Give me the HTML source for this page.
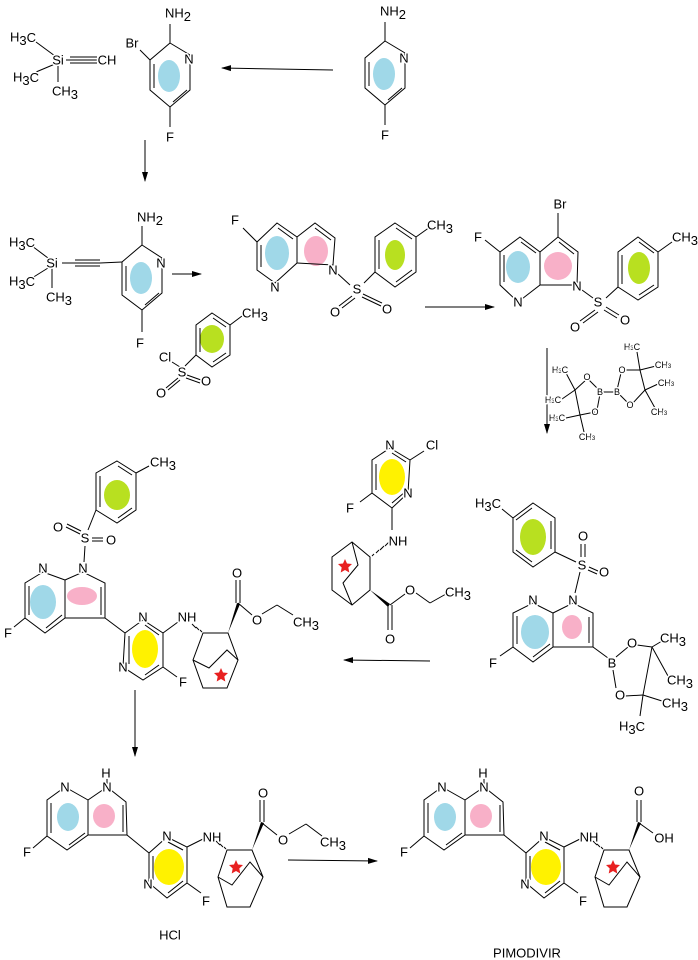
<!DOCTYPE html>
<html><head><meta charset="utf-8"><style>
html,body{margin:0;padding:0;background:#fff}
svg{display:block}
text{font-family:"Liberation Sans",Arial,sans-serif;font-size:13px;fill:#000;text-anchor:middle;dominant-baseline:central;paint-order:stroke;stroke:#fff;stroke-width:3px;stroke-linejoin:round}
text.s{font-size:9px}
line,polyline,polygon.r{stroke:#000;stroke-width:1;fill:none}
.bl{fill:#a0d8e8}.pk{fill:#f8b0c8}.gr{fill:#b8e020}.ye{fill:#fff200}.st{fill:#e82020}
</style></head><body>
<svg width="698" height="960" viewBox="0 0 698 960" xmlns="http://www.w3.org/2000/svg">
<defs>
<marker id="ah" markerWidth="10" markerHeight="8" refX="9" refY="4" orient="auto" markerUnits="userSpaceOnUse"><path d="M0,1 L10,4 L0,7 Z" fill="#000"/></marker>
<polygon id="star" points="0,-7 2,-2.5 7,-2 3.3,1.5 4.3,6.5 0,4 -4.3,6.5 -3.3,1.5 -7,-2 -2,-2.5"/>
</defs>

<!-- arrows -->
<g stroke="#000" stroke-width="1" marker-end="url(#ah)">
<line x1="333" y1="70" x2="222" y2="68"/>
<line x1="145" y1="140" x2="145" y2="181"/>
<line x1="172" y1="274" x2="201" y2="274"/>
<line x1="425" y1="307" x2="494" y2="307"/>
<line x1="547" y1="348" x2="547" y2="433"/>
<line x1="430" y1="661" x2="344" y2="660"/>
<line x1="135" y1="690" x2="135" y2="756"/>
<line x1="288" y1="860" x2="377" y2="861"/>
</g>

<!-- S1 -->
<ellipse class="bl" cx="384" cy="74" rx="11" ry="16"/>
<polygon class="r" points="385,41 405,53 405,88 385,105 365,88 365,58"/>
<line x1="369" y1="62" x2="369" y2="86"/><line x1="388" y1="100" x2="402" y2="88"/>
<line x1="385" y1="41" x2="385" y2="22"/><line x1="385" y1="105" x2="385" y2="125"/>
<text x="393" y="11">NH<tspan class="s" dy="3">2</tspan></text>
<text x="404" y="58">N</text><text x="385" y="135">F</text>

<!-- S2 -->
<ellipse class="bl" cx="169" cy="76" rx="11" ry="16"/>
<polygon class="r" points="170,43 190,55 190,90 170,107 150,90 150,60"/>
<line x1="154" y1="64" x2="154" y2="88"/><line x1="173" y1="102" x2="187" y2="90"/>
<line x1="170" y1="43" x2="170" y2="24"/><line x1="150" y1="60" x2="140" y2="50"/><line x1="170" y1="107" x2="170" y2="127"/>
<text x="178" y="13">NH<tspan class="s" dy="3">2</tspan></text>
<text x="132" y="43">Br</text><text x="189" y="59">N</text><text x="170" y="137">F</text>
<line x1="36" y1="42" x2="55" y2="56"/><line x1="36" y1="72" x2="55" y2="64"/><line x1="58" y1="66" x2="58" y2="82"/>
<line x1="66" y1="60" x2="97" y2="60"/><line x1="70" y1="57" x2="97" y2="57"/><line x1="70" y1="63" x2="97" y2="63"/>
<text x="58" y="60">Si</text><text x="107" y="60">CH</text>
<text x="23" y="37">H<tspan class="s" dy="3">3</tspan><tspan dy="-3">C</tspan></text>
<text x="26" y="77">H<tspan class="s" dy="3">3</tspan><tspan dy="-3">C</tspan></text>
<text x="65" y="91">CH<tspan class="s" dy="3">3</tspan></text>

<!-- S3 -->
<ellipse class="bl" cx="141" cy="278" rx="11" ry="16"/>
<polygon class="r" points="142,245 162,258 162,293 142,310 122,295 122,262"/>
<line x1="126" y1="266" x2="126" y2="291"/><line x1="145" y1="305" x2="159" y2="293"/>
<line x1="142" y1="245" x2="142" y2="226"/><line x1="142" y1="310" x2="142" y2="332"/>
<line x1="122" y1="262" x2="100" y2="263"/>
<line x1="62" y1="263" x2="100" y2="263"/><line x1="75" y1="260" x2="100" y2="260"/><line x1="75" y1="266" x2="100" y2="266"/>
<line x1="32" y1="246" x2="48" y2="258"/><line x1="32" y1="278" x2="48" y2="268"/><line x1="52" y1="268" x2="52" y2="288"/>
<text x="150" y="217">NH<tspan class="s" dy="3">2</tspan></text>
<text x="161" y="263">N</text><text x="140" y="343">F</text><text x="52" y="263">Si</text>
<text x="22" y="242">H<tspan class="s" dy="3">3</tspan><tspan dy="-3">C</tspan></text>
<text x="22" y="281">H<tspan class="s" dy="3">3</tspan><tspan dy="-3">C</tspan></text>
<text x="59" y="297">CH<tspan class="s" dy="3">3</tspan></text>

<!-- TsCl -->
<ellipse class="gr" cx="212" cy="339" rx="12" ry="14"/>
<polygon class="r" points="212,313 230,325 230,355 212,367 196,355 196,325"/>
<line x1="200" y1="328" x2="200" y2="352"/><line x1="213" y1="318" x2="226" y2="327"/><line x1="213" y1="362" x2="226" y2="353"/>
<line x1="230" y1="325" x2="242" y2="316"/><line x1="196" y1="355" x2="185" y2="366"/>
<line x1="172" y1="362" x2="180" y2="367"/><line x1="187" y1="375" x2="201" y2="380"/><line x1="186" y1="378" x2="200" y2="383"/>
<line x1="178" y1="378" x2="166" y2="388"/><line x1="180" y1="380" x2="168" y2="390"/>
<text x="255" y="313">CH<tspan class="s" dy="3">3</tspan></text>
<text x="165" y="357">Cl</text><text x="182" y="372">S</text><text x="206" y="381">O</text><text x="161" y="393">O</text>

<!-- S4 -->
<ellipse class="bl" cx="277" cy="253" rx="12" ry="17"/><ellipse class="pk" cx="316" cy="251" rx="12" ry="15"/>
<polygon class="r" points="277,223 297,237 297,263 275,283 257,270 257,242"/>
<polyline points="297,237 315,223 335,238 333,265 297,263"/>
<line x1="261" y1="245" x2="261" y2="267"/><line x1="278" y1="228" x2="293" y2="239"/><line x1="315" y1="228" x2="331" y2="240"/>
<line x1="257" y1="242" x2="243" y2="228"/>
<line x1="338" y1="274" x2="350" y2="285"/><line x1="364" y1="283" x2="375" y2="272"/>
<line x1="352" y1="296" x2="339" y2="306"/><line x1="355" y1="298" x2="342" y2="308"/><line x1="363" y1="294" x2="382" y2="303"/><line x1="362" y1="297" x2="381" y2="306"/>
<ellipse class="gr" cx="395" cy="255" rx="10" ry="15"/>
<polygon class="r" points="395,223 416,237 416,272 395,287 375,272 375,237"/>
<line x1="379" y1="240" x2="379" y2="269"/><line x1="396" y1="228" x2="412" y2="239"/><line x1="396" y1="282" x2="412" y2="270"/>
<line x1="416" y1="237" x2="430" y2="227"/>
<text x="235" y="220">F</text><text x="275" y="287">N</text><text x="333" y="270">N</text>
<text x="357" y="289">S</text><text x="335" y="312">O</text><text x="387" y="309">O</text>
<text x="440" y="225">CH<tspan class="s" dy="3">3</tspan></text>

<!-- S5 -->
<ellipse class="bl" cx="518" cy="267" rx="12" ry="16"/><ellipse class="pk" cx="558" cy="266" rx="14" ry="14"/>
<polygon class="r" points="520,237 540,252 540,285 518,302 500,285 500,252"/>
<polyline points="540,252 558,237 578,252 577,285 540,285"/>
<line x1="504" y1="255" x2="504" y2="282"/><line x1="521" y1="242" x2="536" y2="253"/><line x1="559" y1="242" x2="574" y2="254"/>
<line x1="558" y1="237" x2="558" y2="213"/><line x1="500" y1="252" x2="485" y2="240"/>
<line x1="582" y1="290" x2="593" y2="298"/><line x1="606" y1="298" x2="618" y2="287"/>
<line x1="595" y1="310" x2="580" y2="321"/><line x1="598" y1="312" x2="583" y2="323"/><line x1="606" y1="307" x2="619" y2="315"/><line x1="604" y1="310" x2="617" y2="318"/>
<ellipse class="gr" cx="639" cy="268" rx="11" ry="16"/>
<polygon class="r" points="638,237 658,252 658,287 638,300 618,287 618,252"/>
<line x1="622" y1="255" x2="622" y2="284"/><line x1="639" y1="242" x2="654" y2="253"/><line x1="639" y1="295" x2="654" y2="285"/>
<line x1="658" y1="252" x2="672" y2="242"/>
<text x="560" y="204">Br</text><text x="478" y="237">F</text><text x="518" y="302">N</text><text x="577" y="286">N</text>
<text x="598" y="302">S</text><text x="625" y="320">O</text><text x="575" y="327">O</text>
<text x="685" y="237">CH<tspan class="s" dy="3">3</tspan></text>

<!-- B2pin2 -->
<g>
<line x1="575" y1="390" x2="587" y2="379"/><line x1="580" y1="415" x2="595" y2="412"/><line x1="575" y1="390" x2="580" y2="415"/>
<line x1="589" y1="380" x2="599" y2="390"/><line x1="597" y1="410" x2="600" y2="394"/><line x1="603" y1="392" x2="614" y2="392"/>
<line x1="617" y1="390" x2="621" y2="373"/><line x1="620" y1="395" x2="628" y2="403"/>
<line x1="624" y1="370" x2="640" y2="370"/><line x1="632" y1="404" x2="645" y2="390"/><line x1="640" y1="370" x2="645" y2="390"/>
<line x1="640" y1="370" x2="637" y2="352"/><line x1="640" y1="370" x2="656" y2="366"/><line x1="645" y1="390" x2="658" y2="384"/><line x1="645" y1="390" x2="655" y2="408"/>
<line x1="575" y1="390" x2="566" y2="373"/><line x1="575" y1="390" x2="562" y2="399"/><line x1="580" y1="415" x2="566" y2="418"/><line x1="580" y1="415" x2="584" y2="432"/>
<text class="s" x="560" y="370">H<tspan font-size="6" dy="2">3</tspan><tspan dy="-2">C</tspan></text>
<text class="s" x="587" y="377">O</text><text class="s" x="600" y="392">B</text><text class="s" x="617" y="392">B</text>
<text class="s" x="622" y="370">O</text><text class="s" x="632" y="347">H<tspan font-size="6" dy="2">3</tspan><tspan dy="-2">C</tspan></text>
<text class="s" x="663" y="365">CH<tspan font-size="6" dy="2">3</tspan></text><text class="s" x="666" y="383">CH<tspan font-size="6" dy="2">3</tspan></text>
<text class="s" x="630" y="405">O</text><text class="s" x="659" y="412">CH<tspan font-size="6" dy="2">3</tspan></text>
<text class="s" x="553" y="400">H<tspan font-size="6" dy="2">3</tspan><tspan dy="-2">C</tspan></text><text class="s" x="595" y="412">O</text>
<text class="s" x="557" y="418">H<tspan font-size="6" dy="2">3</tspan><tspan dy="-2">C</tspan></text><text class="s" x="587" y="437">CH<tspan font-size="6" dy="2">3</tspan></text>
</g>

<!-- S6 -->
<ellipse class="gr" cx="533" cy="537" rx="13" ry="18"/>
<polygon class="r" points="533,503 555,518 555,552 533,567 513,552 513,518"/>
<line x1="551" y1="521" x2="551" y2="549"/><line x1="532" y1="508" x2="516" y2="520"/><line x1="532" y1="562" x2="516" y2="550"/>
<line x1="513" y1="518" x2="502" y2="509"/>
<line x1="555" y1="552" x2="576" y2="562"/><line x1="581" y1="557" x2="581" y2="544"/><line x1="585" y1="557" x2="585" y2="544"/>
<line x1="589" y1="567" x2="598" y2="571"/><line x1="588" y1="570" x2="597" y2="574"/><line x1="580" y1="572" x2="575" y2="593"/>
<ellipse class="bl" cx="535" cy="632" rx="14" ry="17"/><ellipse class="pk" cx="572" cy="627" rx="10" ry="12"/>
<polygon class="r" points="533,603 553,613 553,647 533,662 513,647 513,613"/>
<polyline points="553,613 573,603 593,613 593,647 553,647"/>
<line x1="517" y1="616" x2="517" y2="644"/><line x1="533" y1="657" x2="550" y2="644"/><line x1="589" y1="617" x2="589" y2="643"/>
<line x1="513" y1="647" x2="500" y2="656"/><line x1="593" y1="647" x2="608" y2="658"/>
<line x1="616" y1="657" x2="628" y2="647"/><line x1="613" y1="670" x2="616" y2="688"/><line x1="637" y1="645" x2="652" y2="647"/><line x1="625" y1="696" x2="643" y2="695"/>
<line x1="652" y1="647" x2="643" y2="695"/><line x1="652" y1="647" x2="662" y2="641"/><line x1="652" y1="647" x2="668" y2="676"/><line x1="643" y1="695" x2="662" y2="701"/><line x1="643" y1="695" x2="640" y2="716"/>
<text x="488" y="503">H<tspan class="s" dy="3">3</tspan><tspan dy="-3">C</tspan></text>
<text x="582" y="565">S</text><text x="583" y="536">O</text><text x="604" y="572">O</text>
<text x="533" y="600">N</text><text x="573" y="600">N</text><text x="493" y="663">F</text>
<text x="612" y="663">B</text><text x="632" y="643">O</text><text x="620" y="695">O</text>
<text x="673" y="638">CH<tspan class="s" dy="3">3</tspan></text><text x="680" y="680">CH<tspan class="s" dy="3">3</tspan></text>
<text x="675" y="703">CH<tspan class="s" dy="3">3</tspan></text><text x="632" y="726">H<tspan class="s" dy="3">3</tspan><tspan dy="-3">C</tspan></text>

<!-- S7 -->
<ellipse class="ye" cx="392" cy="477" rx="13" ry="18"/>
<polygon class="r" points="390,448 410,460 408,493 392,508 372,493 372,460"/>
<line x1="392" y1="453" x2="406" y2="462"/><line x1="392" y1="503" x2="405" y2="492"/><line x1="376" y1="464" x2="376" y2="490"/>
<line x1="410" y1="460" x2="424" y2="451"/><line x1="372" y1="493" x2="360" y2="502"/><line x1="392" y1="508" x2="392" y2="530"/>
<polygon class="r" points="370,557 370,590 352,605 332,590 332,557 352,542"/>
<polyline points="352,542 358,565 343,583 352,605"/>
<g stroke="#000" stroke-width="1"><line x1="374" y1="554" x2="372" y2="556"/><line x1="379" y1="550" x2="376" y2="553"/><line x1="384" y1="546" x2="380" y2="550"/><line x1="389" y1="542" x2="385" y2="546"/></g>
<polygon points="370,590 390,604 388,607" fill="#000"/>
<line x1="388" y1="605" x2="388" y2="630"/><line x1="392" y1="605" x2="392" y2="630"/>
<line x1="390" y1="605" x2="405" y2="594"/><line x1="416" y1="593" x2="430" y2="603"/><line x1="430" y1="603" x2="446" y2="594"/>
<use href="#star" class="st" x="345" y="566"/>
<text x="390" y="445">N</text><text x="432" y="445">Cl</text><text x="408" y="493">N</text><text x="350" y="508">F</text>
<text x="398" y="541">NH</text><text x="390" y="639">O</text><text x="410" y="590">O</text>
<text x="458" y="592">CH<tspan class="s" dy="3">3</tspan></text>

<!-- S8 -->
<ellipse class="gr" cx="117" cy="495" rx="13" ry="15"/>
<polygon class="r" points="117,461 136,473 136,510 117,523 96,510 96,473"/>
<line x1="100" y1="476" x2="100" y2="507"/><line x1="118" y1="466" x2="132" y2="475"/><line x1="118" y1="518" x2="132" y2="508"/>
<line x1="136" y1="473" x2="149" y2="466"/><line x1="96" y1="510" x2="88" y2="530"/>
<line x1="66" y1="527" x2="80" y2="534"/><line x1="67" y1="524" x2="81" y2="531"/><line x1="92" y1="538" x2="103" y2="538"/><line x1="92" y1="541" x2="103" y2="541"/>
<line x1="85" y1="546" x2="84" y2="562"/>
<ellipse class="bl" cx="43" cy="602" rx="13" ry="17"/><ellipse class="pk" cx="82" cy="596" rx="15" ry="9"/>
<polygon class="r" points="43,572 65,580 65,618 45,633 25,618 25,583"/>
<polyline points="65,580 83,572 105,583 105,618 65,618"/>
<line x1="29" y1="586" x2="29" y2="615"/><line x1="46" y1="628" x2="62" y2="615"/><line x1="101" y1="587" x2="101" y2="615"/>
<line x1="25" y1="618" x2="14" y2="627"/><line x1="105" y1="618" x2="125" y2="633"/>
<ellipse class="ye" cx="145" cy="649" rx="13" ry="19"/>
<polygon class="r" points="125,633 143,620 163,633 163,667 143,680 123,667"/>
<line x1="129" y1="636" x2="129" y2="664"/><line x1="145" y1="625" x2="159" y2="635"/><line x1="145" y1="675" x2="159" y2="665"/>
<line x1="163" y1="633" x2="178" y2="622"/><line x1="163" y1="667" x2="177" y2="677"/>
<polygon class="r" points="203,633 228,633 238,660 227,688 203,688 193,660"/>
<polyline points="193,660 209,668 227,650 238,660"/>
<g stroke="#000" stroke-width="1"><line x1="200" y1="630" x2="202" y2="632"/><line x1="196" y1="627" x2="199" y2="630"/><line x1="192" y1="624" x2="196" y2="628"/></g>
<polygon points="228,633 237,603 240,604" fill="#000"/>
<line x1="236" y1="603" x2="236" y2="580"/><line x1="240" y1="603" x2="240" y2="580"/>
<line x1="238" y1="603" x2="252" y2="615"/><line x1="262" y1="614" x2="277" y2="605"/><line x1="277" y1="605" x2="293" y2="615"/>
<use href="#star" class="st" x="221" y="675"/>
<text x="163" y="462">CH<tspan class="s" dy="3">3</tspan></text>
<text x="85" y="538">S</text><text x="58" y="527">O</text><text x="111" y="540">O</text>
<text x="43" y="568">N</text><text x="83" y="568">N</text><text x="8" y="633">F</text>
<text x="143" y="617">N</text><text x="123" y="667">N</text><text x="183" y="682">F</text><text x="187" y="617">NH</text>
<text x="237" y="573">O</text><text x="257" y="620">O</text><text x="306" y="622">CH<tspan class="s" dy="3">3</tspan></text>

<!-- S9 -->
<g id="s9">
<ellipse class="bl" cx="68" cy="817" rx="11" ry="14"/><ellipse class="pk" cx="104" cy="816" rx="11" ry="12"/>
<polygon class="r" points="65,787 88,800 88,835 67,850 47,836 47,800"/>
<polyline points="88,800 107,787 126,802 127,835 88,835"/>
<line x1="51" y1="803" x2="51" y2="833"/><line x1="69" y1="845" x2="85" y2="833"/><line x1="123" y1="805" x2="123" y2="832"/>
<line x1="47" y1="836" x2="33" y2="848"/><line x1="107" y1="787" x2="107" y2="779"/><line x1="127" y1="835" x2="149" y2="853"/>
<ellipse class="ye" cx="169" cy="867" rx="15" ry="18"/>
<polygon class="r" points="149,853 167,837 187,847 187,883 167,898 149,883"/>
<line x1="153" y1="856" x2="153" y2="880"/><line x1="168" y1="842" x2="183" y2="850"/><line x1="168" y1="893" x2="183" y2="881"/>
<line x1="187" y1="847" x2="203" y2="839"/><line x1="187" y1="883" x2="201" y2="893"/>
<polygon class="r" points="227,850 252,850 263,877 250,907 227,907 218,877"/>
<polyline points="218,877 232,885 250,862 263,877"/>
<g stroke="#000" stroke-width="1"><line x1="224" y1="847" x2="226" y2="849"/><line x1="220" y1="844" x2="223" y2="847"/><line x1="216" y1="841" x2="220" y2="845"/></g>
<use href="#star" class="st" x="236" y="867"/>
<text x="106" y="773">H</text><text x="65" y="787">N</text><text x="107" y="787">N</text><text x="27" y="852">F</text>
<text x="167" y="836">N</text><text x="148" y="884">N</text><text x="206" y="901">F</text><text x="212" y="837">NH</text>
</g>
<polygon points="252,850 261,822 264,823" fill="#000"/>
<line x1="260" y1="822" x2="260" y2="800"/><line x1="264" y1="822" x2="264" y2="800"/>
<line x1="262" y1="823" x2="277" y2="835"/><line x1="289" y1="834" x2="306" y2="824"/><line x1="306" y1="824" x2="322" y2="836"/>
<text x="263" y="793">O</text><text x="283" y="840">O</text><text x="333" y="842">CH<tspan class="s" dy="3">3</tspan></text>
<text x="170" y="935">HCl</text>

<!-- S10 -->
<g transform="translate(377,0)">
<ellipse class="bl" cx="68" cy="817" rx="11" ry="14"/><ellipse class="pk" cx="104" cy="816" rx="11" ry="12"/>
<polygon class="r" points="65,787 88,800 88,835 67,850 47,836 47,800"/>
<polyline points="88,800 107,787 126,802 127,835 88,835"/>
<line x1="51" y1="803" x2="51" y2="833"/><line x1="69" y1="845" x2="85" y2="833"/><line x1="123" y1="805" x2="123" y2="832"/>
<line x1="47" y1="836" x2="33" y2="848"/><line x1="107" y1="787" x2="107" y2="779"/><line x1="127" y1="835" x2="149" y2="853"/>
<ellipse class="ye" cx="169" cy="867" rx="15" ry="18"/>
<polygon class="r" points="149,853 167,837 187,847 187,883 167,898 149,883"/>
<line x1="153" y1="856" x2="153" y2="880"/><line x1="168" y1="842" x2="183" y2="850"/><line x1="168" y1="893" x2="183" y2="881"/>
<line x1="187" y1="847" x2="203" y2="839"/><line x1="187" y1="883" x2="201" y2="893"/>
<polygon class="r" points="227,850 252,850 263,877 250,907 227,907 218,877"/>
<polyline points="218,877 232,885 250,862 263,877"/>
<g stroke="#000" stroke-width="1"><line x1="224" y1="847" x2="226" y2="849"/><line x1="220" y1="844" x2="223" y2="847"/><line x1="216" y1="841" x2="220" y2="845"/></g>
<use href="#star" class="st" x="236" y="867"/>
<text x="106" y="773">H</text><text x="65" y="787">N</text><text x="107" y="787">N</text><text x="27" y="852">F</text>
<text x="167" y="836">N</text><text x="148" y="884">N</text><text x="206" y="901">F</text><text x="212" y="837">NH</text>
<polygon points="252,850 261,822 264,823" fill="#000"/>
<line x1="260" y1="822" x2="260" y2="800"/><line x1="264" y1="822" x2="264" y2="800"/>
<line x1="262" y1="823" x2="276" y2="833"/>
<text x="262" y="791">O</text><text x="287" y="838">OH</text>
</g>
<text x="527" y="953">PIMODIVIR</text>
</svg>
</body></html>
